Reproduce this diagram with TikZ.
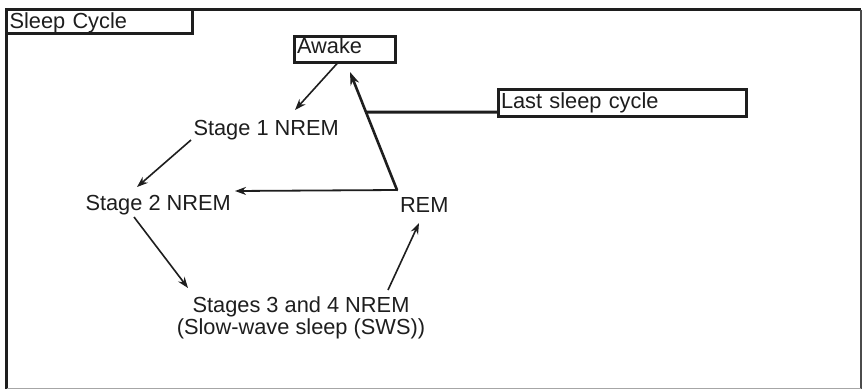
\documentclass[tikz,border=0pt]{standalone}
\usepackage{fontspec}
\setmainfont{Liberation Sans}
\usetikzlibrary{arrows.meta,calc}
\definecolor{ink}{HTML}{1E1E1E}
\begin{document}
\begin{tikzpicture}[x=1pt,y=-1pt,
  every node/.style={font=\fontsize{21.8}{20}\selectfont, text=ink},
  lbl/.style={inner sep=0pt, outer sep=0pt, anchor=base west},
  lbox/.style={draw=ink, line width=3pt, outer sep=0pt, anchor=north west,
     inner xsep=2.5pt, inner ysep=0pt, align=left, text height=15pt},
  arr/.style={draw=ink, line width=1.6pt, -{Stealth[length=11pt,width=8pt]}},
  thickarr/.style={draw=ink, line width=2.6pt, -{Stealth[length=13pt,width=9pt]}}]
\useasboundingbox (0,0) rectangle (865,391);
\fill[white] (0,0) rectangle (865,391);
% outer frame
\draw[ink, line width=3pt] (6.5,389) -- (6.5,9.5) -- (861,9.5);
\draw[ink!80, line width=2pt] (861,9.5) -- (861,389);
\draw[gray!70, line width=1.5pt] (6.5,388.5) -- (861,388.5);
% boxes
\node[lbox, minimum width=185pt, minimum height=24pt, text width=180pt, text depth=2pt, inner xsep=3pt] (title) at (6.5,9.5) {Sleep Cycle};
\node[lbox, minimum width=101pt, minimum height=26pt, text width=96pt, text depth=7pt] (awake) at (294.5,36.5) {Awake};
\node[lbox, minimum width=248pt, minimum height=27pt, text width=243pt, text depth=5pt] (lsc) at (498.5,89.5) {Last sleep cycle};
% labels
\node[lbl] (s1) at (193.5,135) {Stage 1 NREM};
\node[lbl] (s2) at (85.5,210) {Stage 2 NREM};
\node[lbl] (rem) at (400,212) {REM};
\node[inner sep=0pt, outer sep=0pt, anchor=north, align=center] (s34) at (301,297) {Stages 3 and 4 NREM\\(Slow-wave sleep (SWS))};
% connectors
\coordinate (fork) at ($(rem.base west)+(-3,-22)$);
\coordinate (awtip) at ($(awake.south)+(5,9.5)$);
\draw[arr] ($(awake.south)+(-7,0)$) -- ($(s1.base west)+(101.5,-25)$);
\draw[arr] ($(s1.base west)+(-2.5,5)$) -- ($(s2.base west)+(51.5,-23)$);
\draw[arr] ($(s2.base west)+(48.5,7)$) -- ($(s34.north)+(-113,-9)$);
\draw[arr] ($(s34.north)+(87,-7)$) -- ($(rem.base west)+(19,11)$);
\draw[arr, line width=1.8pt] (fork) -- ($(s2.base west)+(149.5,-19)$);
\draw[thickarr, line cap=round] (fork) -- (awtip);
\draw[ink, line width=3pt] ($(lsc.south west)+(0,-4.5)$) -- ($(fork)!0.661!(awtip)$);
\end{tikzpicture}
\end{document}
